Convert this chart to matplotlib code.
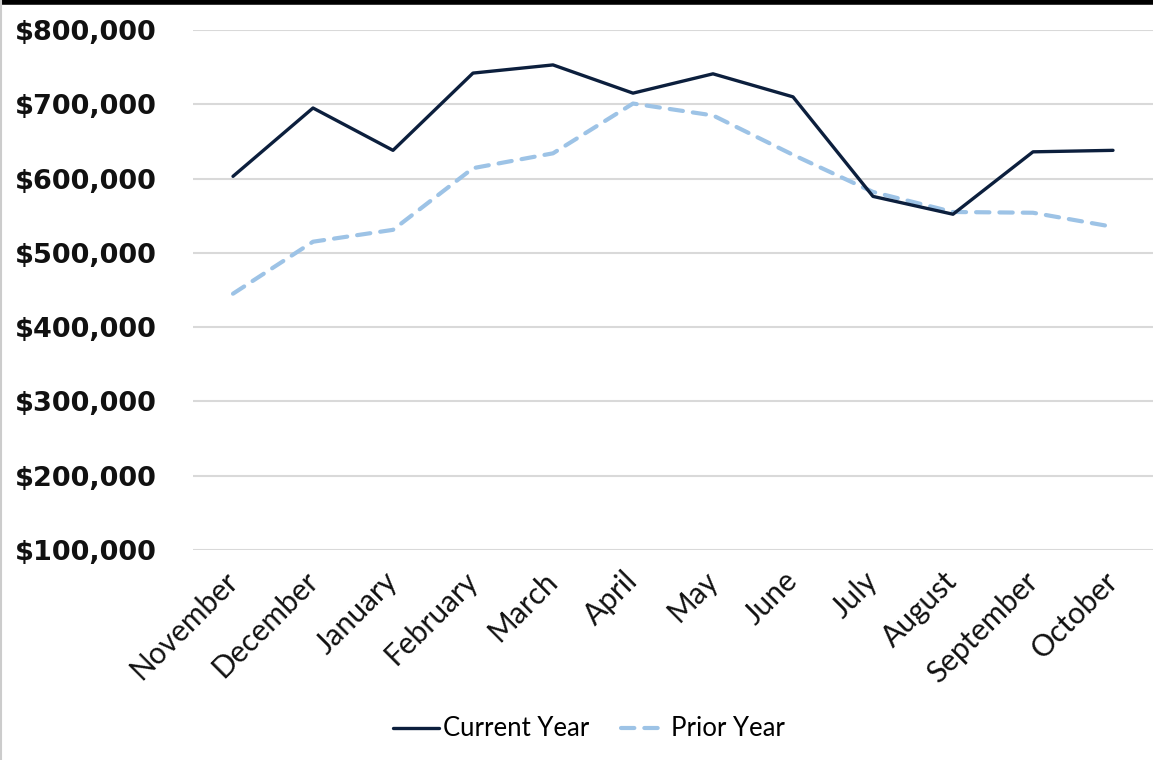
import matplotlib
matplotlib.use('Agg')
import matplotlib.pyplot as plt
from matplotlib.lines import Line2D
from matplotlib.ticker import FuncFormatter

# monthly totals
months = ['November', 'December', 'January', 'February', 'March', 'April',
          'May', 'June', 'July', 'August', 'September', 'October']
current_year = [603000, 695000, 638000, 742000, 753000, 715000,
                741000, 710000, 576000, 552000, 636000, 638000]
prior_year = [445000, 515000, 531000, 614000, 634000, 701000,
              685000, 632000, 582000, 555000, 554000, 535000]
y_ticks = [100000, 200000, 300000, 400000, 500000, 600000, 700000, 800000]

plt.rcParams['font.family'] = ['Lato', 'DejaVu Sans']

fig = plt.figure(figsize=(11.53, 7.6), dpi=100)
ax = fig.add_axes([193 / 1153, 1 - 550 / 760, 1 - 193 / 1153, 520 / 760])

x = list(range(len(months)))
ax.plot(x, current_year, color='#0c1f3d', linewidth=2.4, label='Current Year',
        solid_capstyle='round', zorder=3)
ax.plot(x, prior_year, color='#9dc3e6', linewidth=3, dashes=(3.2, 2.4),
        label='Prior Year', dash_capstyle='round', zorder=2)

ax.set_xlim(-0.5, len(months) - 0.5)
ax.set_ylim(100000, 800000)
ax.set_yticks(y_ticks)
ax.yaxis.set_major_formatter(FuncFormatter(lambda v, p: f'${v:,.0f}'))
ax.set_xticks(x)
ax.set_xticklabels(months, rotation=45, ha='right', va='center',
                   rotation_mode='anchor', fontsize=21.5, color='#111111')
for lab in ax.get_yticklabels():
    lab.set_family('DejaVu Sans')
    lab.set_fontweight('bold')
    lab.set_fontsize(19.5)
    lab.set_color('#111111')

ax.grid(axis='y', color='#d9d9d9', linewidth=1.5)
ax.set_axisbelow(True)
ax.tick_params(axis='both', length=0)
ax.tick_params(axis='y', pad=26)
ax.tick_params(axis='x', pad=19)
for s in ax.spines.values():
    s.set_visible(False)

fig.legend(loc='center', bbox_to_anchor=(589 / 1153, 1 - 729 / 760), ncol=2,
           frameon=False, fontsize=18.5, handlelength=1.8, handletextpad=0.15,
           columnspacing=1.25)

# frame bits around the picture
fig.add_artist(Line2D([0, 1], [0.998, 0.998], color='black', linewidth=4,
                      transform=fig.transFigure))
fig.add_artist(Line2D([0.001, 0.001], [0, 1], color='#cccccc', linewidth=1.5,
                      transform=fig.transFigure))

fig.savefig('out.png', dpi=100)
